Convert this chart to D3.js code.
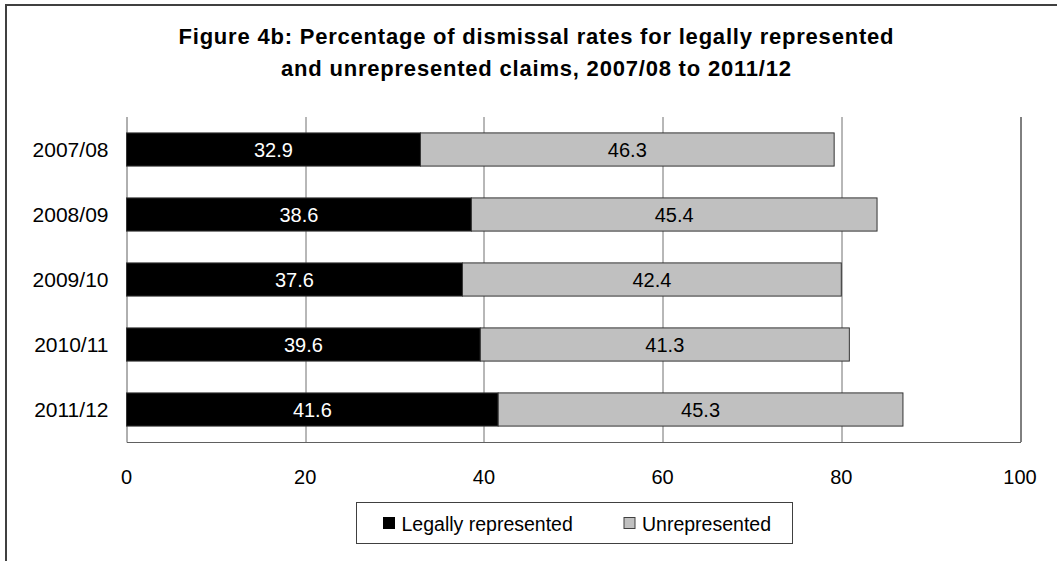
<!DOCTYPE html>
<html>
<head>
<meta charset="utf-8">
<script src="https://cdn.jsdelivr.net/npm/d3@7"></script>
<style>
	body { margin: 0; background: #fff; }
	#viz { width: 1057px; height: 561px; overflow: hidden; }
	text { font-family: "Liberation Sans", Arial, sans-serif; fill: #000; }
</style>
</head>
<body>
<div id="viz"></div>
<script>
var years = ["2007/08", "2008/09", "2009/10", "2010/11", "2011/12"];
var legal = [32.9, 38.6, 37.6, 39.6, 41.6];
var unrep = [46.3, 45.4, 42.4, 41.3, 45.3];
var ticks = [0, 20, 40, 60, 80, 100];
var seriesNames = ["Legally represented", "Unrepresented"];
var titleLines = ["Figure 4b: Percentage of dismissal rates for legally represented",
	"and unrepresented claims, 2007/08 to 2011/12"];

var margin, width, height, svg, x, y;

generate();

function generate(){
	margin = {top: 117, right: 37, bottom: 119, left: 126.5};
	width = 1057 - margin.left - margin.right;
	height = 561 - margin.top - margin.bottom;

	svg = d3.select("#viz").append("svg")
		.attr("width", 1057)
		.attr("height", 561);

	// outer frame (only top and left show in the crop)
	svg.append("rect")
		.attr("x", 6).attr("y", 5)
		.attr("width", 1100).attr("height", 600)
		.attr("fill", "none")
		.attr("stroke", "#404040")
		.attr("stroke-width", 2);

	// title
	svg.selectAll(".title")
		.data(titleLines)
		.enter().append("text")
			.attr("class", "title")
			.attr("x", 536)
			.attr("y", (d, i) => i == 0 ? 44 : 75.5)
			.attr("text-anchor", "middle")
			.attr("textLength", (d, i) => i == 0 ? 715 : 510)
			.attr("lengthAdjust", "spacing")
			.style("font-size", "22px")
			.style("font-weight", "bold")
			.text((d) => d);

	x = d3.scaleLinear().domain([0, 100]).range([0, width]);
	y = d3.scaleBand().domain(years).range([0, height]).paddingInner(0.49).paddingOuter(0.245);

	var g = svg.append("g")
		.attr("transform", "translate(" + margin.left + "," + margin.top + ")");

	// gridlines
	g.selectAll(".grid")
		.data(ticks.slice(1))
		.enter().append("line")
			.attr("class", "grid")
			.attr("x1", (d) => Math.round(x(d)) + 0.5)
			.attr("x2", (d) => Math.round(x(d)) + 0.5)
			.attr("y1", 0)
			.attr("y2", height)
			.attr("stroke", (d) => d == 100 ? "#000" : "#707070")
			.attr("stroke-width", 1);

	// left + bottom axis lines
	g.append("path")
		.attr("d", "M0.5,0V" + (Math.round(height) + 0.5) + "H" + (Math.round(x(100)) + 0.5))
		.attr("fill", "none")
		.attr("stroke", "#606060")
		.attr("stroke-width", 1);

	var rows = years.map(function(yr, i){
		return {year: yr, legal: legal[i], unrep: unrep[i]};
	});

	// legally represented (black)
	g.selectAll(".bar-legal")
		.data(rows)
		.enter().append("rect")
			.attr("class", "bar-legal")
			.attr("x", x(0))
			.attr("y", (d) => y(d.year))
			.attr("width", (d) => x(d.legal) - x(0))
			.attr("height", y.bandwidth())
			.attr("fill", "#000")
			.attr("stroke", "#333")
			.attr("stroke-width", 1);

	// unrepresented (grey), stacked
	g.selectAll(".bar-unrep")
		.data(rows)
		.enter().append("rect")
			.attr("class", "bar-unrep")
			.attr("x", (d) => x(d.legal))
			.attr("y", (d) => y(d.year))
			.attr("width", (d) => x(d.legal + d.unrep) - x(d.legal))
			.attr("height", y.bandwidth())
			.attr("fill", "#c0c0c0")
			.attr("stroke", "#333")
			.attr("stroke-width", 1);

	// value labels
	g.selectAll(".lbl-legal")
		.data(rows)
		.enter().append("text")
			.attr("class", "lbl-legal")
			.attr("x", (d) => x(d.legal / 2))
			.attr("y", (d) => y(d.year) + y.bandwidth() / 2)
			.attr("dy", "0.35em")
			.attr("text-anchor", "middle")
			.style("font-size", "20px")
			.style("fill", "#fff")
			.text((d) => d.legal.toFixed(1));

	g.selectAll(".lbl-unrep")
		.data(rows)
		.enter().append("text")
			.attr("class", "lbl-unrep")
			.attr("x", (d) => x(d.legal + d.unrep / 2))
			.attr("y", (d) => y(d.year) + y.bandwidth() / 2)
			.attr("dy", "0.35em")
			.attr("text-anchor", "middle")
			.style("font-size", "20px")
			.text((d) => d.unrep.toFixed(1));

	// category labels
	g.selectAll(".cat")
		.data(years)
		.enter().append("text")
			.attr("class", "cat")
			.attr("x", -18)
			.attr("y", (d) => y(d) + y.bandwidth() / 2)
			.attr("dy", "0.36em")
			.attr("text-anchor", "end")
			.style("font-size", "21px")
			.text((d) => d);

	// x tick labels
	g.selectAll(".tick-lbl")
		.data(ticks)
		.enter().append("text")
			.attr("class", "tick-lbl")
			.attr("x", (d) => x(d))
			.attr("y", height + 41.5)
			.attr("text-anchor", "middle")
			.style("font-size", "20px")
			.text((d) => d);

	// legend
	var legend = svg.append("g").attr("transform", "translate(356.5,502.5)");
	legend.append("rect")
		.attr("width", 436).attr("height", 41)
		.attr("fill", "#fff")
		.attr("stroke", "#404040")
		.attr("stroke-width", 1);

	var item = legend.selectAll(".item")
		.data(seriesNames)
		.enter().append("g")
			.attr("class", "item")
			.attr("transform", (d, i) => "translate(" + (i == 0 ? 27 : 267.5) + ",0)");
	item.append("rect")
		.attr("y", 15).attr("width", 11).attr("height", 11)
		.attr("fill", (d, i) => i == 0 ? "#000" : "#c0c0c0")
		.attr("stroke", (d, i) => i == 0 ? "#000" : "#404040")
		.attr("stroke-width", 1);
	item.append("text")
		.attr("x", 18)
		.attr("y", 28)
		.style("font-size", "19.5px")
		.text((d) => d);
}
</script>
</body>
</html>
